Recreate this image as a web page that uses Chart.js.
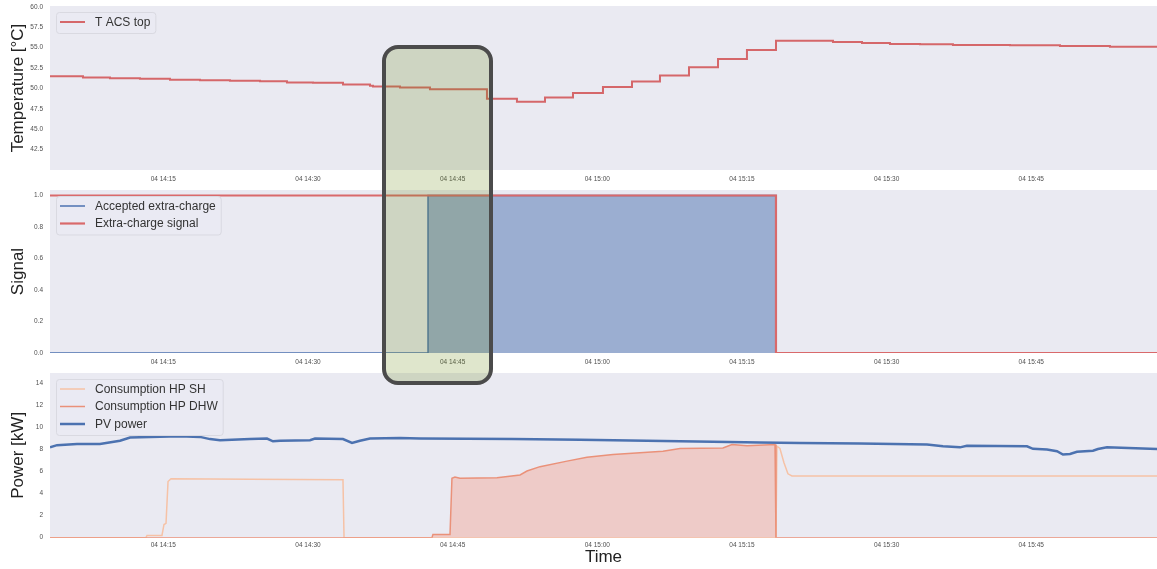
<!DOCTYPE html>
<html>
<head>
<meta charset="utf-8">
<script src="https://cdn.jsdelivr.net/npm/chart.js@4.4.1/dist/chart.umd.min.js"></script>
<style>
  html, body { margin: 0; padding: 0; background: #ffffff; }
  #wrap { position: relative; width: 1157px; height: 569px; overflow: hidden; }
  #wrap canvas { position: absolute; left: 0; }
  #highlight {
    position: absolute; box-sizing: border-box;
    border: 4.5px solid #4b4b4b; border-radius: 16px;
    background: rgba(110, 140, 25, 0.22);
    pointer-events: none;
  }
</style>
</head>
<body>
<div id="wrap">
  <canvas id="tempChart" width="1157" height="185" style="top:0px"></canvas>
  <canvas id="signalChart" width="1157" height="185" style="top:185px"></canvas>
  <canvas id="powerChart" width="1157" height="199" style="top:370px"></canvas>
  <div id="highlight"></div>
</div>
<script>
// ---- Time axis: minutes after 14:00 on day 04 ----
const timeRange = [3.25, 118.04];
const timeTickMinutes = [15, 30, 45, 60, 75, 90, 105];
const timeTickLabels = ['04 14:15', '04 14:30', '04 14:45', '04 15:00', '04 15:15', '04 15:30', '04 15:45'];

// ---- DHW tank top temperature (new value from each listed minute) ----
const tempMinutes = [3.25, 6.67, 9.47, 12.58, 15.69, 18.80, 21.91, 25.03, 27.82, 30.52, 33.63, 36.43, 36.74,
  39.54, 42.65, 48.56, 51.67, 54.58, 57.48, 60.59, 63.60, 66.50, 69.51, 72.52, 75.52, 78.53,
  84.44, 87.45, 90.35, 93.46, 96.88, 102.79, 107.98, 113.16, 118.04];
const tempValues = [51.50, 51.33, 51.25, 51.17, 51.05, 51.01, 50.93, 50.89, 50.72, 50.68, 50.48, 50.32, 50.23,
  50.11, 49.91, 48.73, 48.36, 48.89, 49.43, 50.16, 50.84, 51.58, 52.60, 53.61, 54.71, 55.85,
  55.69, 55.57, 55.45, 55.41, 55.32, 55.29, 55.20, 55.12, 55.08];
const tempTicks = [42.5, 45.0, 47.5, 50.0, 52.5, 55.0, 57.5, 60.0];

// ---- Extra-charge signals (new state from each listed minute) ----
const acceptedMinutes = [3.25, 42.45, 78.53, 118.04];
const acceptedValues = [0, 1, 0, 0];
const requestMinutes = [3.25, 78.53, 118.04];
const requestValues = [1, 0, 0];
const signalTicks = [0.0, 0.2, 0.4, 0.6, 0.8, 1.0];

// ---- Power [kW] ----
const shMinutes = [3.25, 13.20, 13.31, 14.86, 15.07, 15.28, 15.49, 15.80, 23.99, 33.63, 33.74,
  78.53, 78.63, 78.94, 79.36, 79.77, 80.19, 118.04];
const shValues = [0, 0, 0.2, 0.2, 1.2, 1.3, 5.1, 5.35, 5.3, 5.25, 0,
  0, 8.3, 8.1, 6.8, 5.8, 5.6, 5.6];

const dhwMinutes = [3.25, 42.86, 42.96, 44.73, 44.93, 45.24, 45.76, 49.60, 51.99, 52.71, 54.06,
  56.86, 58.93, 61.63, 66.81, 68.58, 73.03, 73.97, 75.52, 78.43, 78.53, 118.04];
const dhwValues = [0, 0, 0.3, 0.3, 5.4, 5.5, 5.4, 5.45, 5.7, 6.05, 6.45,
  6.95, 7.3, 7.55, 7.85, 8.1, 8.15, 8.45, 8.35, 8.45, 0, 0];

const pvMinutes = [3.25, 3.98, 6.05, 8.43, 10.51, 11.55, 13.62, 16.73, 18.80, 19.84, 20.88, 23.99,
  25.75, 26.37, 27.10, 30.21, 30.73, 33.63, 34.57, 35.39, 36.43, 39.54, 41.62, 51.26, 58.21,
  65.15, 72.00, 76.87, 81.02, 87.24, 94.19, 95.85, 97.61, 98.33, 104.56, 105.18, 106.63,
  107.67, 108.29, 109.02, 109.74, 111.40, 111.92, 112.85, 118.04];
const pvValues = [8.2, 8.4, 8.5, 8.5, 8.8, 9.1, 9.15, 9.2, 9.15, 8.95, 8.85, 8.95,
  9.0, 8.75, 8.8, 8.85, 9.0, 8.95, 8.6, 8.8, 9.0, 9.05, 9.0, 8.95, 8.9,
  8.8, 8.7, 8.65, 8.6, 8.55, 8.45, 8.3, 8.2, 8.35, 8.3, 8.07, 8.0,
  7.85, 7.55, 7.6, 7.8, 7.9, 8.05, 8.2, 8.05];
const powerTicks = [0, 2, 4, 6, 8, 10, 12, 14];

// Highlighted time window (minutes) and its vertical extent (°C at top, kW at bottom)
const highlightWindow = [37.64, 49.19];
const highlightTopTemp = 55.32;
const highlightBottomPower = 13.86;

// ---- Shared styling helpers ----
const FONT = '"Liberation Sans", Arial, Helvetica, sans-serif';
const PLOT_BG = '#eaeaf2';

const points = (xs, ys) => xs.map((x, i) => ({ x: x, y: ys[i] }));

const plotBackground = {
  id: 'plotBackground',
  beforeDraw(chart) {
    const { ctx, chartArea: a } = chart;
    ctx.save();
    ctx.fillStyle = PLOT_BG;
    ctx.fillRect(a.left, a.top, a.right - a.left, a.bottom - a.top);
    ctx.restore();
  }
};

// Framed legend in the upper-left corner of the plot area
const cornerLegend = {
  id: 'cornerLegend',
  afterDatasetsDraw(chart) {
    const { ctx, chartArea: a } = chart;
    const sets = chart.data.datasets;
    ctx.save();
    ctx.font = '12px ' + FONT;
    let maxText = 0;
    sets.forEach(ds => { maxText = Math.max(maxText, ctx.measureText(ds.label).width); });
    const bx = a.left + 6, by = a.top + 6;
    const rowH = 17.5;
    const bw = 39 + maxText + 5, bh = rowH * sets.length + 3.5;
    ctx.beginPath();
    ctx.roundRect(bx + 0.5, by + 0.5, bw, bh, 3);
    ctx.fillStyle = 'rgba(234,234,242,0.8)';
    ctx.fill();
    ctx.strokeStyle = '#d9d9e1';
    ctx.lineWidth = 1;
    ctx.stroke();
    sets.forEach((ds, i) => {
      const cy = by + 10 + i * rowH;
      ctx.beginPath();
      ctx.moveTo(bx + 4, cy);
      ctx.lineTo(bx + 29, cy);
      ctx.strokeStyle = ds.borderColor;
      ctx.lineWidth = ds.legendWidth || ds.borderWidth;
      ctx.stroke();
      ctx.fillStyle = '#333333';
      ctx.textBaseline = 'middle';
      ctx.textAlign = 'left';
      ctx.fillText(ds.label, bx + 39, cy + 0.5);
    });
    ctx.restore();
  }
};

function timeAxis(axisHeight, tickPad, title) {
  return {
    type: 'linear',
    min: timeRange[0],
    max: timeRange[1],
    grid: { display: false, drawTicks: false },
    border: { display: false },
    afterBuildTicks(scale) { scale.ticks = timeTickMinutes.map(v => ({ value: v })); },
    afterFit(scale) { scale.height = axisHeight; scale.paddingLeft = 0; scale.paddingRight = 0; },
    ticks: {
      autoSkip: false, maxRotation: 0, minRotation: 0, padding: tickPad,
      color: '#505050', font: { size: 6.5, family: FONT },
      callback(v) { const i = timeTickMinutes.indexOf(v); return i >= 0 ? timeTickLabels[i] : ''; }
    },
    title: title
      ? { display: true, text: title, color: '#222222', font: { size: 17, family: FONT }, padding: { top: 0, bottom: 1 } }
      : { display: false }
  };
}

function valueAxis(min, max, tickValues, digits, title) {
  return {
    type: 'linear',
    min: min,
    max: max,
    grid: { display: false, drawTicks: false },
    border: { display: false },
    afterBuildTicks(scale) { scale.ticks = tickValues.map(v => ({ value: v })); },
    afterFit(scale) { scale.width = 50; scale.paddingTop = 0; scale.paddingBottom = 0; },
    ticks: {
      padding: 7, color: '#505050', font: { size: 6.5, family: FONT },
      callback(v) { return Number(v).toFixed(digits); }
    },
    title: { display: true, text: title, color: '#222222', font: { size: 17, family: FONT }, padding: { top: 8, bottom: 0 } }
  };
}

function baseOptions(padTop, xAxis, yAxis) {
  return {
    responsive: false,
    animation: false,
    devicePixelRatio: 1,
    layout: { padding: { left: 0, right: 0, top: padTop, bottom: 0 } },
    elements: { point: { radius: 0 }, line: { tension: 0 } },
    plugins: { legend: { display: false }, tooltip: { enabled: false } },
    scales: { x: xAxis, y: yAxis }
  };
}

// ---- Temperature panel ----
const tempChart = new Chart(document.getElementById('tempChart'), {
  type: 'line',
  data: {
    datasets: [{
      label: 'T ACS top',
      data: points(tempMinutes, tempValues),
      borderColor: '#d5676a', borderWidth: 2, stepped: true, fill: false
    }]
  },
  options: baseOptions(6, timeAxis(15, 5), valueAxis(40, 60.1, tempTicks, 1, 'Temperature [°C]')),
  plugins: [plotBackground, cornerLegend]
});

// ---- Signal panel ----
const signalChart = new Chart(document.getElementById('signalChart'), {
  type: 'line',
  data: {
    datasets: [{
      label: 'Accepted extra-charge',
      data: points(acceptedMinutes, acceptedValues),
      borderColor: '#4c72b0', borderWidth: 1.5, stepped: true,
      fill: 'origin', backgroundColor: 'rgba(76,114,176,0.5)', order: 2
    }, {
      label: 'Extra-charge signal',
      data: points(requestMinutes, requestValues),
      borderColor: '#d9696b', borderWidth: 2.2, stepped: true, fill: false, order: 1
    }]
  },
  options: baseOptions(5, timeAxis(17, 5), valueAxis(0, 1.035, signalTicks, 1, 'Signal')),
  plugins: [plotBackground, cornerLegend]
});

// ---- Power panel ----
const powerChart = new Chart(document.getElementById('powerChart'), {
  type: 'line',
  data: {
    datasets: [{
      label: 'Consumption HP SH',
      data: points(shMinutes, shValues),
      borderColor: '#f6c2a6', borderWidth: 1.5, fill: false, order: 3
    }, {
      label: 'Consumption HP DHW',
      data: points(dhwMinutes, dhwValues),
      borderColor: '#ea9179', borderWidth: 1.5,
      fill: 'origin', backgroundColor: 'rgba(247,134,102,0.3)', order: 2
    }, {
      label: 'PV power',
      data: points(pvMinutes, pvValues),
      borderColor: '#4c72b0', borderWidth: 2.5, fill: false, order: 1
    }]
  },
  options: baseOptions(3, timeAxis(31.3, 3.5, 'Time'), valueAxis(0, 14.95, powerTicks, 0, 'Power [kW]')),
  plugins: [plotBackground, cornerLegend]
});

// ---- Highlight frame spanning the three panels ----
(function placeHighlight() {
  const box = document.getElementById('highlight');
  const left = tempChart.scales.x.getPixelForValue(highlightWindow[0]);
  const right = tempChart.scales.x.getPixelForValue(highlightWindow[1]);
  const top = tempChart.scales.y.getPixelForValue(highlightTopTemp);
  const bottom = 370 + powerChart.scales.y.getPixelForValue(highlightBottomPower);
  box.style.left = left + 'px';
  box.style.top = top + 'px';
  box.style.width = (right - left) + 'px';
  box.style.height = (bottom - top) + 'px';
})();
</script>
</body>
</html>
